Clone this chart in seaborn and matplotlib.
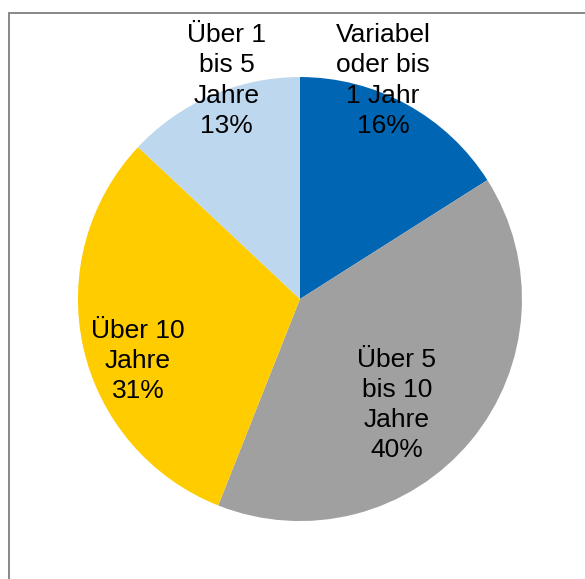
import matplotlib
matplotlib.use("Agg")
import matplotlib.pyplot as plt
import seaborn as sns
from matplotlib.patches import Rectangle

sns.set_theme(style="white")
plt.rcParams["font.family"] = ["Liberation Sans", "DejaVu Sans"]

# data: clockwise from 12 o'clock
labels = ["Variabel\noder bis\n1 Jahr", "Über 5\nbis 10\nJahre", "Über 10\nJahre", "Über 1\nbis 5\nJahre"]
shares = [16, 40, 31, 13]
colors = ["#0066b3", "#a0a0a0", "#ffcc00", "#bdd7ee"]

# label anchor (relative to pie centre, in radius units)
label_pos = [(0.374, 0.985), (0.437, -0.477), (-0.73, -0.28), (-0.33, 0.985)]

fig = plt.figure(figsize=(5.85, 5.79), dpi=100)
ax = fig.add_axes([0, 0, 1, 1])

ax.pie(shares, colors=colors, startangle=90, counterclock=False,
       radius=1.0, wedgeprops=dict(linewidth=0))

for lab, val, (x, y) in zip(labels, shares, label_pos):
    ax.text(x, y, f"{lab}\n{val}%", ha="center", va="center",
            fontsize=19, color="black", linespacing=1.33)

ax.set_xlim(-1.351, 1.284)
ax.set_ylim(-1.261, 1.347)
ax.set_aspect("auto")
ax.axis("off")

# chart frame (cut off on right and bottom)
W, H = 585, 579
fig.patches.append(Rectangle((8.5 / W, -0.05), 1.1, (H - 12.5) / H + 0.05,
                             transform=fig.transFigure, fill=False,
                             edgecolor="#7f7f7f", linewidth=1.3))

fig.savefig("out.png", dpi=100, facecolor="white")
